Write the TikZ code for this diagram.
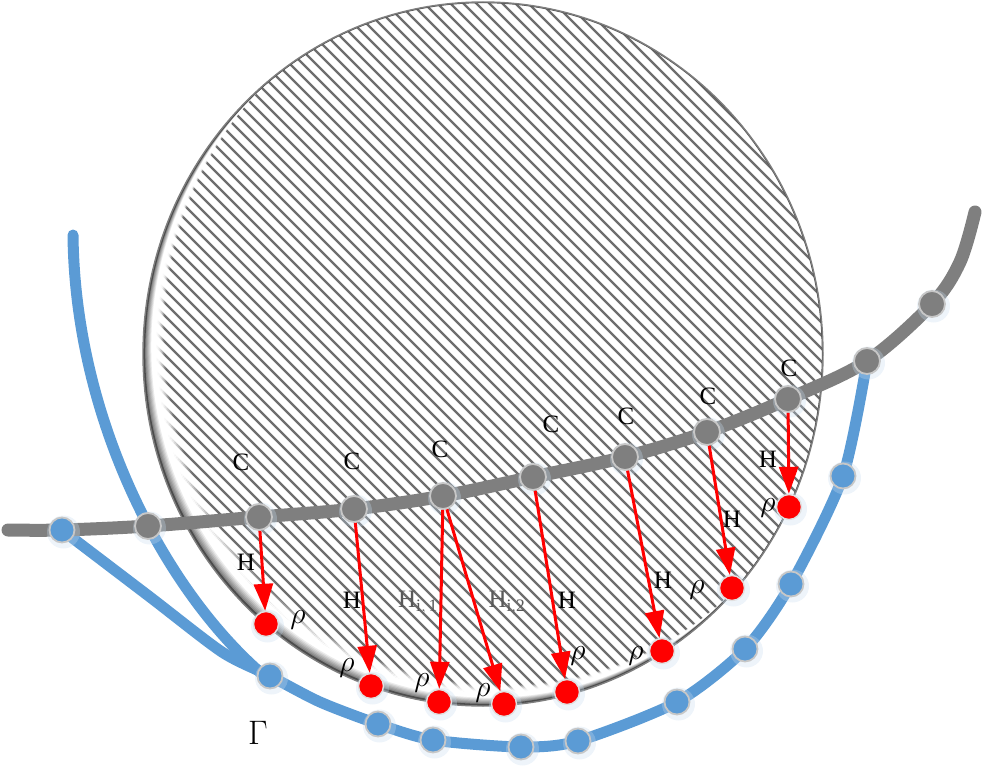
\RequirePackage{fix-cm}
\documentclass[tikz,border=0pt]{standalone}
\usepackage{fontspec}
\setmainfont{Liberation Serif}
\usetikzlibrary{arrows.meta}
\definecolor{gline}{HTML}{7F7F7F}
\definecolor{bline}{HTML}{5B9BD5}
\definecolor{hatchc}{HTML}{6E6E6E}
\tikzset{
  gdot/.style={circle, fill=gline, draw=black!22, line width=1.8pt, minimum size=26pt, inner sep=0pt},
  bdot/.style={circle, fill=bline, draw=black!22, line width=1.8pt, minimum size=25pt, inner sep=0pt},
  rdot/.style={circle, fill=red, draw=black!12, line width=1.4pt, minimum size=25pt, inner sep=0pt},
  halo/.style={circle, fill=bline!35, opacity=0.3, minimum size=33pt, inner sep=0pt},
  arr/.style={red, line width=3pt, -{Triangle[length=27pt,width=19pt]}},
  lbl/.style={font=\fontsize{25}{28}\selectfont, inner sep=0pt},
  rholbl/.style={font=\fontsize{30}{32}\selectfont, inner sep=0pt},
  hatch/.style={hatchc, line width=2.3pt},
  gcurve/.style={gline, line width=13pt, line cap=round},
  bcurve/.style={bline, line width=11pt, line cap=round, line join=round}
}
\begin{document}
\begin{tikzpicture}[x=1pt,y=-1pt]
\useasboundingbox (0,0) rectangle (982,773);
% hatched disc with inner shadow
\begin{scope}
  \clip (483,354) ellipse [x radius=340pt, y radius=352pt];
  \fill[white] (483,354) ellipse [x radius=340pt, y radius=352pt];
  \foreach \c in {-580,-567,...,840} {
    \draw[hatch] (\c-10,-10) -- (\c+790,790);
  }
  \foreach \k in {20,19,...,0} {
    \ifnum\k>7
      \pgfmathsetmacro{\op}{min(1,(21-\k)/9)}
      \draw[white, line width=2.4pt, opacity=\op] ([shift={(\k,-\k)}]483,354) ellipse [x radius=340pt, y radius=352pt];
    \else
      \ifnum\k<2
        \draw[line width=2.4pt, color=black!70] ([shift={(\k,-\k)}]483,354) ellipse [x radius=340pt, y radius=352pt];
      \else
        \pgfmathsetmacro{\mx}{48*(8-\k)/6}
        \draw[line width=2.4pt, color=black!\mx] ([shift={(\k,-\k)}]483,354) ellipse [x radius=340pt, y radius=352pt];
      \fi
    \fi
  }
\end{scope}
\draw[gline, line width=1.4pt] (483,354) ellipse [x radius=340pt, y radius=352pt];

% blue curves
\draw[bcurve] (73,235) .. controls (75,420) and (165,590) .. (262,674);
\draw[bcurve] plot[smooth, tension=0.45] coordinates {(62,530) (150,597) (222,652) (270,676) (320,702) (378,724) (433,740) (521,747) (578,741) (677,702) (745,649) (791,584) (843,476) (867,361)};
% gray curve
\draw[gcurve] plot[smooth, tension=0.55] coordinates {(8,530) (62,530) (148,526) (259,517) (354,509) (443,496) (533,477) (625,457) (707,432) (788,399) (867,361) (932,304) (960,262) (975,212)};

% halos
\foreach \p in {(62,530),(148,526),(259,517),(354,509),(443,496),(533,477),(625,457),(707,432),(788,399),(867,361),(932,304),
  (270,676),(378,724),(433,740),(521,747),(578,741),(677,702),(745,649),(791,584),(843,476),
  (266,624),(371,686),(439,702),(504,704),(567,692),(662,651),(732,588),(789,507)}
  \node[halo, xshift=1.5pt, yshift=-2pt] at \p {};

% blue dots
\node[bdot] (b0) at (62,530) {};
\node[bdot] (b1) at (270,676) {};
\node[bdot] (b2) at (378,724) {};
\node[bdot] (b3) at (433,740) {};
\node[bdot] (b4) at (521,747) {};
\node[bdot] (b5) at (578,741) {};
\node[bdot] (b6) at (677,702) {};
\node[bdot] (b7) at (745,649) {};
\node[bdot] (b8) at (791,584) {};
\node[bdot] (b9) at (843,476) {};

% gray dots
\node[gdot] (g0) at (148,526) {};
\node[gdot] (g1) at (259,517) {};
\node[gdot] (g2) at (354,509) {};
\node[gdot] (g3) at (443,496) {};
\node[gdot] (g4) at (533,477) {};
\node[gdot] (g5) at (625,457) {};
\node[gdot] (g6) at (707,432) {};
\node[gdot] (g7) at (788,399) {};
\node[gdot] (g8) at (867,361) {};
\node[gdot] (g9) at (932,304) {};

% red dots
\node[rdot] (r1) at (266,624) {};
\node[rdot] (r2) at (371,686) {};
\node[rdot] (r3) at (439,702) {};
\node[rdot] (r4) at (504,704) {};
\node[rdot] (r5) at (567,692) {};
\node[rdot] (r6) at (662,651) {};
\node[rdot] (r7) at (732,588) {};
\node[rdot] (r8) at (789,507) {};

% arrows
\draw[arr] (g1) -- (r1);
\draw[arr] (g2) -- (r2);
\draw[arr] (g3) -- (r3);
\draw[arr] (g3) -- (r4);
\draw[arr] (g4) -- (r5);
\draw[arr] (g5) -- (r6);
\draw[arr] (g6) -- (r7);
\draw[arr] (g7) -- (r8);

% C labels
\node[lbl] (c1) at (241,462) {C};
\node[lbl] (c2) at (352,461) {C};
\node[lbl] (c3) at (440,449) {C};
\node[lbl] (c4) at (551,424) {C};
\node[lbl] (c5) at (626,416) {C};
\node[lbl] (c6) at (708,396) {C};
\node[lbl] (c7) at (789,368) {C};
% H labels
\node[lbl] (h1) at (246,562) {H};
\node[lbl] (h2) at (352,600) {H};
\node[lbl] (h5) at (567,600) {H};
\node[lbl] (h6) at (663,580) {H};
\node[lbl] (h7) at (732,519) {H};
\node[lbl] (h8) at (768,459) {H};
\node[lbl, text=black!65] (h3) at (418,603) {H$_{\mathrm{i,\,1}}$};
\node[lbl, text=black!65] (h4) at (507,603) {H$_{\mathrm{i,2}}$};
% rho labels
\node[rholbl] (p1) at (298,620) {$\rho$};
\node[rholbl] (p2) at (347,668) {$\rho$};
\node[rholbl] (p3) at (422,683) {$\rho$};
\node[rholbl] (p4) at (483,693) {$\rho$};
\node[rholbl] (p5) at (578,656) {$\rho$};
\node[rholbl] (p6) at (636,656) {$\rho$};
\node[rholbl] (p7) at (697,590) {$\rho$};
\node[rholbl] (p8) at (768,508) {$\rho$};
% Gamma
\node[inner sep=0pt, font=\fontsize{34}{36}\selectfont] (gam) at (258,733) {$\Gamma$};
\end{tikzpicture}
\end{document}
